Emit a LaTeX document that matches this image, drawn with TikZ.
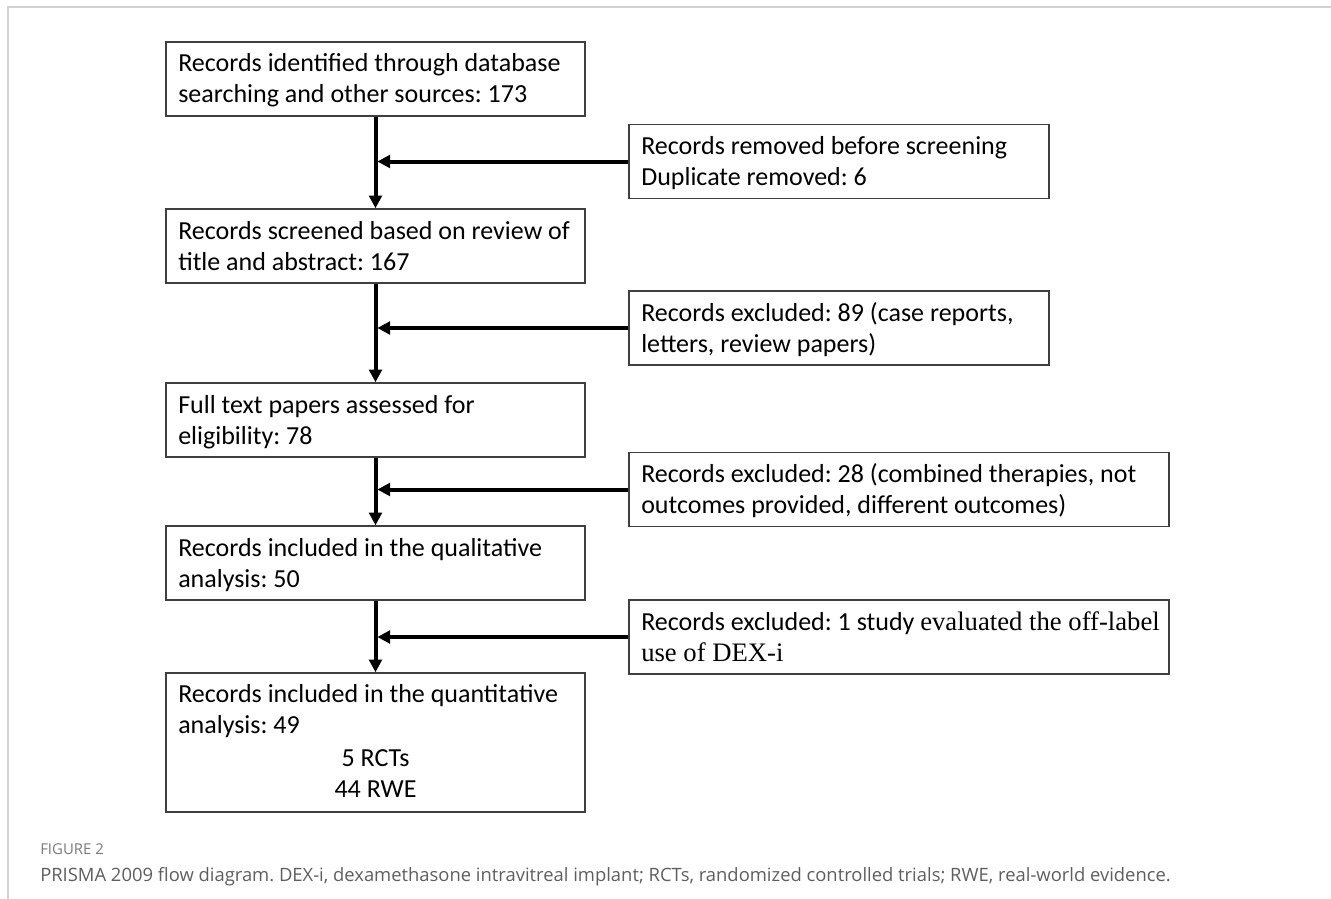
\documentclass[tikz,border=0pt]{standalone}
\usepackage{fontspec}
\setmainfont{Carlito}
\newfontfamily\serifface{Liberation Serif}
\newfontfamily\capfont{Open Sans}
\usetikzlibrary{arrows.meta,calc}
\definecolor{boxline}{HTML}{3F3F3F}
\definecolor{framegray}{HTML}{D2D2D2}
\definecolor{capgray}{HTML}{5E5E5E}
\definecolor{figgray}{HTML}{7A7A7A}
\frenchspacing
\begin{document}
\frenchspacing
\begin{tikzpicture}[x=0.75pt,y=-0.75pt,
  box/.style={draw=boxline,line width=1.1pt,inner sep=0pt,minimum height=55.5pt},
  leftbox/.style={box,minimum width=314.25pt},
  shortbox/.style={box,minimum width=315pt},
  widebox/.style={box,minimum width=405pt},
  txt/.style={anchor=base west,inner sep=0pt,align=left,font=\fontsize{19.5pt}{23.25pt}\selectfont},
  flow/.style={draw=black,line width=3pt,-{Triangle[length=9.5pt,width=9.5pt]}},
  side/.style={flow,shorten >=1.4pt}
]
\useasboundingbox (0,0) rectangle (1331,899);
% frame
\draw[framegray,line width=1.5pt] (8,899) -- (8,7) -- (1331,7);

% left column
\node[leftbox] (b1) at (375.5,79) {};
\node[leftbox] (b2) at (375.5,246) {};
\node[leftbox] (b3) at (375.5,420) {};
\node[leftbox] (b4) at (375.5,563) {};
\node[leftbox,minimum height=104.25pt] (b5) at (375.5,742.5) {};

\node[txt] (t1) at (178,103) {Records identified through database\\searching and other sources: 173};
\node[txt] (t2) at (178,270) {Records screened based on review of\\title and abstract: 167};
\node[txt] (t3) at (178,444) {Full text papers assessed for\\eligibility: 78};
\node[txt] (t4) at (178,587) {Records included in the qualitative\\analysis: 50};
\node[txt] (t5) at (178,733) {Records included in the quantitative\\analysis: 49};
\node[txt,anchor=base,align=center] (t5b) at (375.5,797) {5 RCTs\\44 RWE};

% right column
\node[shortbox] (r1) at (839,161.5) {};
\node[shortbox] (r2) at (839,328) {};
\node[widebox] (r3) at (899,489.5) {};
\node[widebox] (r4) at (899,637) {};

\node[txt] (s1) at (641,185.5) {Records removed before screening\\Duplicate removed: 6};
\node[txt] (s2) at (641,352) {Records excluded: 89 (case reports,\\letters, review papers)};
\node[txt] (s3) at (641,513.5) {Records excluded: 28 (combined therapies, not\\outcomes provided, different outcomes)};
\node[txt] (s4) at (641,661) {Records excluded: 1 study {\serifface\fontsize{20pt}{23.25pt}\selectfont evaluated the off-label}\\{\serifface\fontsize{20pt}{23.25pt}\selectfont use of DEX-i}};

% connectors
\draw[flow] (b1.south) -- (b2.north);
\draw[flow] (b2.south) -- (b3.north);
\draw[flow] (b3.south) -- (b4.north);
\draw[flow] (b4.south) -- (b5.north);
\draw[side] (r1.west) -- (r1.west -| b1.south);
\draw[side] (r2.west) -- (r2.west -| b1.south);
\draw[side] (r3.west) -- (r3.west -| b1.south);
\draw[side] (r4.west) -- (r4.west -| b1.south);

% caption
\node[anchor=base west,inner sep=0pt,text=figgray,font=\capfont\fontsize{11.2pt}{13pt}\selectfont] (fig) at (40,854) {FIGURE 2};
\node[anchor=base west,inner sep=0pt,text=capgray,font=\capfont\fontsize{13.8pt}{15pt}\selectfont] (cap) at (40,881) {PRISMA 2009 flow diagram. DEX-i, dexamethasone intravitreal implant; RCTs, randomized controlled trials; RWE, real-world evidence.};
\end{tikzpicture}
\end{document}
